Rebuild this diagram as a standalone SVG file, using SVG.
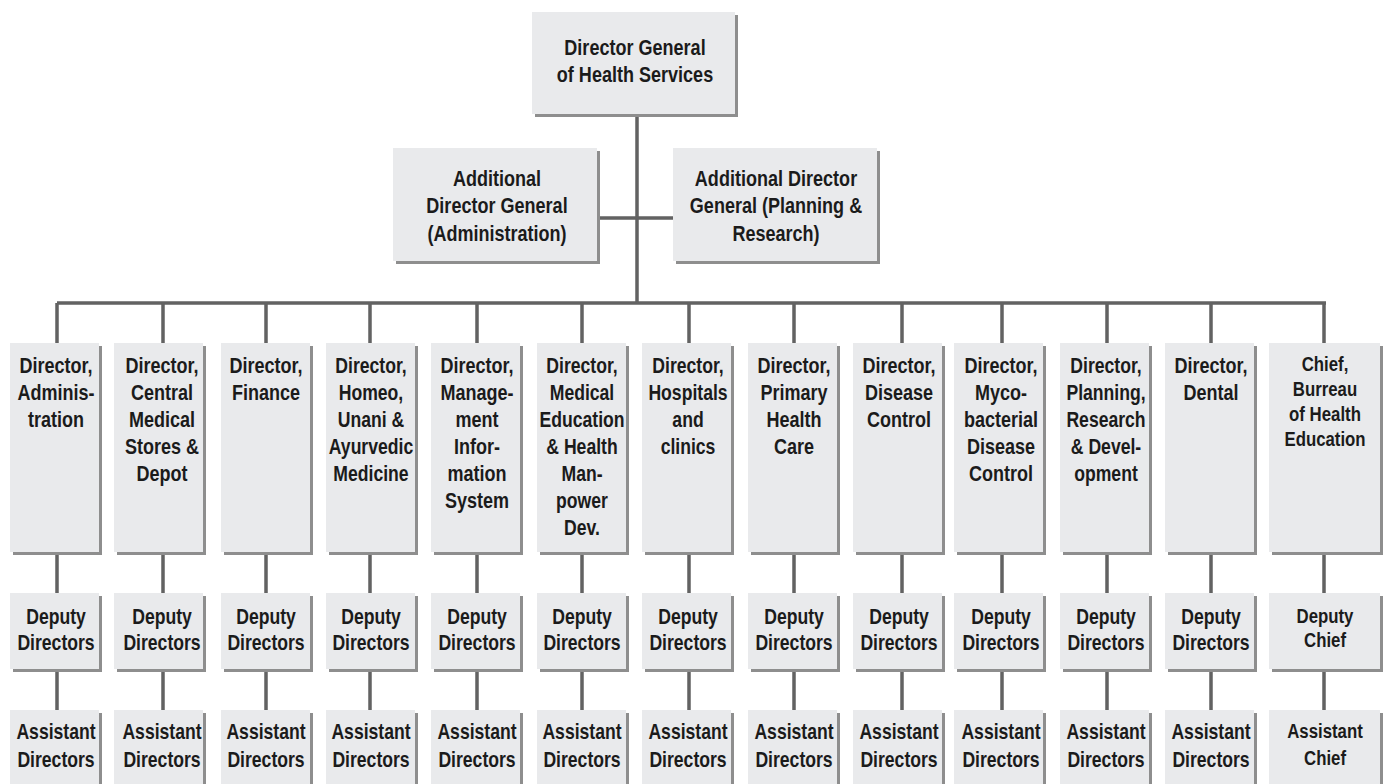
<svg xmlns="http://www.w3.org/2000/svg" width="1387" height="784" viewBox="0 0 1387 784">
<style>
.box{fill:#e9eaec}
.sh{fill:#8e8e8e}
.ln{stroke:#626262;stroke-width:3.5;fill:none}
.t{font-family:"Liberation Sans",Arial,sans-serif;font-weight:bold;font-size:22px;fill:#1b1b1b;text-anchor:middle}
.s{font-size:21px}
</style>
<rect width="1387" height="784" fill="#ffffff"/>
<g id="connectors">
<path class="ln" d="M637 117V303M600 218H673M57 303H1326"/>
<path class="ln" d="M57 303V343M163 303V343M266 303V343M370 303V343M477 303V343M582 303V343M689 303V343M794 303V343M902 303V343M1002 303V343M1107 303V343M1211 303V343M1324 303V343"/>
<path class="ln" d="M57 555V593M163 555V593M266 555V593M370 555V593M477 555V593M582 555V593M689 555V593M794 555V593M902 555V593M1002 555V593M1107 555V593M1211 555V593M1324 555V593"/>
<path class="ln" d="M57 672V710M163 672V710M266 672V710M370 672V710M477 672V710M582 672V710M689 672V710M794 672V710M902 672V710M1002 672V710M1107 672V710M1211 672V710M1324 672V710"/>
</g>
<g id="dg">
<rect class="sh" x="535" y="15" width="203" height="102"/><rect class="box" x="532" y="12" width="203" height="102"/>
<text class="t" transform="translate(635,0) scale(0.82,1)"><tspan x="0" y="55">Director General</tspan><tspan x="0" y="82">of Health Services</tspan></text>
</g>
<g id="adg-admin">
<rect class="sh" x="396" y="151" width="204" height="113"/><rect class="box" x="393" y="148" width="204" height="113"/>
<text class="t" transform="translate(497,0) scale(0.82,1)"><tspan x="0" y="186">Additional</tspan><tspan x="0" y="213">Director General</tspan><tspan x="0" y="241">(Administration)</tspan></text>
</g>
<g id="adg-plan">
<rect class="sh" x="676" y="151" width="204" height="113"/><rect class="box" x="673" y="148" width="204" height="113"/>
<text class="t" transform="translate(776,0) scale(0.82,1)"><tspan x="0" y="186">Additional Director</tspan><tspan x="0" y="213">General (Planning &amp;</tspan><tspan x="0" y="241">Research)</tspan></text>
</g>

<g id="c1">
<rect class="sh" x="13" y="346" width="89" height="209"/><rect class="box" x="10" y="343" width="89" height="209"/>
<text class="t" transform="translate(56,0) scale(0.82,1)"><tspan x="0" y="373">Director,</tspan><tspan x="0" y="400">Adminis-</tspan><tspan x="0" y="427">tration</tspan></text>
</g>
<g id="c2">
<rect class="sh" x="117" y="346" width="89" height="209"/><rect class="box" x="114" y="343" width="89" height="209"/>
<text class="t" transform="translate(162,0) scale(0.82,1)"><tspan x="0" y="373">Director,</tspan><tspan x="0" y="400">Central</tspan><tspan x="0" y="427">Medical</tspan><tspan x="0" y="454">Stores &amp;</tspan><tspan x="0" y="481">Depot</tspan></text>
</g>
<g id="c3">
<rect class="sh" x="224" y="346" width="89" height="209"/><rect class="box" x="221" y="343" width="89" height="209"/>
<text class="t" transform="translate(266,0) scale(0.82,1)"><tspan x="0" y="373">Director,</tspan><tspan x="0" y="400">Finance</tspan></text>
</g>
<g id="c4">
<rect class="sh" x="329" y="346" width="89" height="209"/><rect class="box" x="326" y="343" width="89" height="209"/>
<text class="t" transform="translate(371,0) scale(0.8,1)"><tspan x="0" y="373">Director,</tspan><tspan x="0" y="400">Homeo,</tspan><tspan x="0" y="427">Unani &amp;</tspan><tspan x="0" y="454">Ayurvedic</tspan><tspan x="0" y="481">Medicine</tspan></text>
</g>
<g id="c5">
<rect class="sh" x="434" y="346" width="89" height="209"/><rect class="box" x="431" y="343" width="89" height="209"/>
<text class="t" transform="translate(477,0) scale(0.82,1)"><tspan x="0" y="373">Director,</tspan><tspan x="0" y="400">Manage-</tspan><tspan x="0" y="427">ment</tspan><tspan x="0" y="454">Infor-</tspan><tspan x="0" y="481">mation</tspan><tspan x="0" y="508">System</tspan></text>
</g>
<g id="c6">
<rect class="sh" x="540" y="346" width="89" height="209"/><rect class="box" x="537" y="343" width="89" height="209"/>
<text class="t" transform="translate(582,0) scale(0.8,1)"><tspan x="0" y="373">Director,</tspan><tspan x="0" y="400">Medical</tspan><tspan x="0" y="427">Education</tspan><tspan x="0" y="454">&amp; Health</tspan><tspan x="0" y="481">Man-</tspan><tspan x="0" y="508">power</tspan><tspan x="0" y="535">Dev.</tspan></text>
</g>
<g id="c7">
<rect class="sh" x="645" y="346" width="89" height="209"/><rect class="box" x="642" y="343" width="89" height="209"/>
<text class="t" transform="translate(688,0) scale(0.8,1)"><tspan x="0" y="373">Director,</tspan><tspan x="0" y="400">Hospitals</tspan><tspan x="0" y="427">and</tspan><tspan x="0" y="454">clinics</tspan></text>
</g>
<g id="c8">
<rect class="sh" x="751" y="346" width="89" height="209"/><rect class="box" x="748" y="343" width="89" height="209"/>
<text class="t" transform="translate(794,0) scale(0.82,1)"><tspan x="0" y="373">Director,</tspan><tspan x="0" y="400">Primary</tspan><tspan x="0" y="427">Health</tspan><tspan x="0" y="454">Care</tspan></text>
</g>
<g id="c9">
<rect class="sh" x="856" y="346" width="89" height="209"/><rect class="box" x="853" y="343" width="89" height="209"/>
<text class="t" transform="translate(899,0) scale(0.82,1)"><tspan x="0" y="373">Director,</tspan><tspan x="0" y="400">Disease</tspan><tspan x="0" y="427">Control</tspan></text>
</g>
<g id="c10">
<rect class="sh" x="957" y="346" width="89" height="209"/><rect class="box" x="954" y="343" width="89" height="209"/>
<text class="t" transform="translate(1001,0) scale(0.82,1)"><tspan x="0" y="373">Director,</tspan><tspan x="0" y="400">Myco-</tspan><tspan x="0" y="427">bacterial</tspan><tspan x="0" y="454">Disease</tspan><tspan x="0" y="481">Control</tspan></text>
</g>
<g id="c11">
<rect class="sh" x="1063" y="346" width="89" height="209"/><rect class="box" x="1060" y="343" width="89" height="209"/>
<text class="t" transform="translate(1106,0) scale(0.8,1)"><tspan x="0" y="373">Director,</tspan><tspan x="0" y="400">Planning,</tspan><tspan x="0" y="427">Research</tspan><tspan x="0" y="454">&amp; Devel-</tspan><tspan x="0" y="481">opment</tspan></text>
</g>
<g id="c12">
<rect class="sh" x="1168" y="346" width="89" height="209"/><rect class="box" x="1165" y="343" width="89" height="209"/>
<text class="t" transform="translate(1211,0) scale(0.82,1)"><tspan x="0" y="373">Director,</tspan><tspan x="0" y="400">Dental</tspan></text>
</g>
<g id="c13">
<rect class="sh" x="1272" y="346" width="111" height="209"/><rect class="box" x="1269" y="343" width="111" height="209"/>
<text class="t s" transform="translate(1325,0) scale(0.8,1)"><tspan x="0" y="371">Chief,</tspan><tspan x="0" y="396">Burreau</tspan><tspan x="0" y="421">of Health</tspan><tspan x="0" y="446">Education</tspan></text>
</g>

<g id="d1"><rect class="sh" x="13" y="596" width="89" height="76"/><rect class="box" x="10" y="593" width="89" height="76"/><text class="t" transform="translate(56,0) scale(0.8,1)"><tspan x="0" y="624">Deputy</tspan><tspan x="0" y="650">Directors</tspan></text></g>
<g id="d2"><rect class="sh" x="117" y="596" width="89" height="76"/><rect class="box" x="114" y="593" width="89" height="76"/><text class="t" transform="translate(162,0) scale(0.8,1)"><tspan x="0" y="624">Deputy</tspan><tspan x="0" y="650">Directors</tspan></text></g>
<g id="d3"><rect class="sh" x="224" y="596" width="89" height="76"/><rect class="box" x="221" y="593" width="89" height="76"/><text class="t" transform="translate(266,0) scale(0.8,1)"><tspan x="0" y="624">Deputy</tspan><tspan x="0" y="650">Directors</tspan></text></g>
<g id="d4"><rect class="sh" x="329" y="596" width="89" height="76"/><rect class="box" x="326" y="593" width="89" height="76"/><text class="t" transform="translate(371,0) scale(0.8,1)"><tspan x="0" y="624">Deputy</tspan><tspan x="0" y="650">Directors</tspan></text></g>
<g id="d5"><rect class="sh" x="434" y="596" width="89" height="76"/><rect class="box" x="431" y="593" width="89" height="76"/><text class="t" transform="translate(477,0) scale(0.8,1)"><tspan x="0" y="624">Deputy</tspan><tspan x="0" y="650">Directors</tspan></text></g>
<g id="d6"><rect class="sh" x="540" y="596" width="89" height="76"/><rect class="box" x="537" y="593" width="89" height="76"/><text class="t" transform="translate(582,0) scale(0.8,1)"><tspan x="0" y="624">Deputy</tspan><tspan x="0" y="650">Directors</tspan></text></g>
<g id="d7"><rect class="sh" x="645" y="596" width="89" height="76"/><rect class="box" x="642" y="593" width="89" height="76"/><text class="t" transform="translate(688,0) scale(0.8,1)"><tspan x="0" y="624">Deputy</tspan><tspan x="0" y="650">Directors</tspan></text></g>
<g id="d8"><rect class="sh" x="751" y="596" width="89" height="76"/><rect class="box" x="748" y="593" width="89" height="76"/><text class="t" transform="translate(794,0) scale(0.8,1)"><tspan x="0" y="624">Deputy</tspan><tspan x="0" y="650">Directors</tspan></text></g>
<g id="d9"><rect class="sh" x="856" y="596" width="89" height="76"/><rect class="box" x="853" y="593" width="89" height="76"/><text class="t" transform="translate(899,0) scale(0.8,1)"><tspan x="0" y="624">Deputy</tspan><tspan x="0" y="650">Directors</tspan></text></g>
<g id="d10"><rect class="sh" x="957" y="596" width="89" height="76"/><rect class="box" x="954" y="593" width="89" height="76"/><text class="t" transform="translate(1001,0) scale(0.8,1)"><tspan x="0" y="624">Deputy</tspan><tspan x="0" y="650">Directors</tspan></text></g>
<g id="d11"><rect class="sh" x="1063" y="596" width="89" height="76"/><rect class="box" x="1060" y="593" width="89" height="76"/><text class="t" transform="translate(1106,0) scale(0.8,1)"><tspan x="0" y="624">Deputy</tspan><tspan x="0" y="650">Directors</tspan></text></g>
<g id="d12"><rect class="sh" x="1168" y="596" width="89" height="76"/><rect class="box" x="1165" y="593" width="89" height="76"/><text class="t" transform="translate(1211,0) scale(0.8,1)"><tspan x="0" y="624">Deputy</tspan><tspan x="0" y="650">Directors</tspan></text></g>
<g id="d13"><rect class="sh" x="1272" y="596" width="111" height="76"/><rect class="box" x="1269" y="593" width="111" height="76"/><text class="t s" transform="translate(1325,0) scale(0.8,1)"><tspan x="0" y="623">Deputy</tspan><tspan x="0" y="647">Chief</tspan></text></g>

<g id="a1"><rect class="sh" x="13" y="713" width="89" height="80"/><rect class="box" x="10" y="710" width="89" height="80"/><text class="t" transform="translate(56,0) scale(0.8,1)"><tspan x="0" y="739">Assistant</tspan><tspan x="0" y="767">Directors</tspan></text></g>
<g id="a2"><rect class="sh" x="117" y="713" width="89" height="80"/><rect class="box" x="114" y="710" width="89" height="80"/><text class="t" transform="translate(162,0) scale(0.8,1)"><tspan x="0" y="739">Assistant</tspan><tspan x="0" y="767">Directors</tspan></text></g>
<g id="a3"><rect class="sh" x="224" y="713" width="89" height="80"/><rect class="box" x="221" y="710" width="89" height="80"/><text class="t" transform="translate(266,0) scale(0.8,1)"><tspan x="0" y="739">Assistant</tspan><tspan x="0" y="767">Directors</tspan></text></g>
<g id="a4"><rect class="sh" x="329" y="713" width="89" height="80"/><rect class="box" x="326" y="710" width="89" height="80"/><text class="t" transform="translate(371,0) scale(0.8,1)"><tspan x="0" y="739">Assistant</tspan><tspan x="0" y="767">Directors</tspan></text></g>
<g id="a5"><rect class="sh" x="434" y="713" width="89" height="80"/><rect class="box" x="431" y="710" width="89" height="80"/><text class="t" transform="translate(477,0) scale(0.8,1)"><tspan x="0" y="739">Assistant</tspan><tspan x="0" y="767">Directors</tspan></text></g>
<g id="a6"><rect class="sh" x="540" y="713" width="89" height="80"/><rect class="box" x="537" y="710" width="89" height="80"/><text class="t" transform="translate(582,0) scale(0.8,1)"><tspan x="0" y="739">Assistant</tspan><tspan x="0" y="767">Directors</tspan></text></g>
<g id="a7"><rect class="sh" x="645" y="713" width="89" height="80"/><rect class="box" x="642" y="710" width="89" height="80"/><text class="t" transform="translate(688,0) scale(0.8,1)"><tspan x="0" y="739">Assistant</tspan><tspan x="0" y="767">Directors</tspan></text></g>
<g id="a8"><rect class="sh" x="751" y="713" width="89" height="80"/><rect class="box" x="748" y="710" width="89" height="80"/><text class="t" transform="translate(794,0) scale(0.8,1)"><tspan x="0" y="739">Assistant</tspan><tspan x="0" y="767">Directors</tspan></text></g>
<g id="a9"><rect class="sh" x="856" y="713" width="89" height="80"/><rect class="box" x="853" y="710" width="89" height="80"/><text class="t" transform="translate(899,0) scale(0.8,1)"><tspan x="0" y="739">Assistant</tspan><tspan x="0" y="767">Directors</tspan></text></g>
<g id="a10"><rect class="sh" x="957" y="713" width="89" height="80"/><rect class="box" x="954" y="710" width="89" height="80"/><text class="t" transform="translate(1001,0) scale(0.8,1)"><tspan x="0" y="739">Assistant</tspan><tspan x="0" y="767">Directors</tspan></text></g>
<g id="a11"><rect class="sh" x="1063" y="713" width="89" height="80"/><rect class="box" x="1060" y="710" width="89" height="80"/><text class="t" transform="translate(1106,0) scale(0.8,1)"><tspan x="0" y="739">Assistant</tspan><tspan x="0" y="767">Directors</tspan></text></g>
<g id="a12"><rect class="sh" x="1168" y="713" width="89" height="80"/><rect class="box" x="1165" y="710" width="89" height="80"/><text class="t" transform="translate(1211,0) scale(0.8,1)"><tspan x="0" y="739">Assistant</tspan><tspan x="0" y="767">Directors</tspan></text></g>
<g id="a13"><rect class="sh" x="1272" y="713" width="111" height="80"/><rect class="box" x="1269" y="710" width="111" height="80"/><text class="t s" transform="translate(1325,0) scale(0.8,1)"><tspan x="0" y="738">Assistant</tspan><tspan x="0" y="765">Chief</tspan></text></g>
</svg>
